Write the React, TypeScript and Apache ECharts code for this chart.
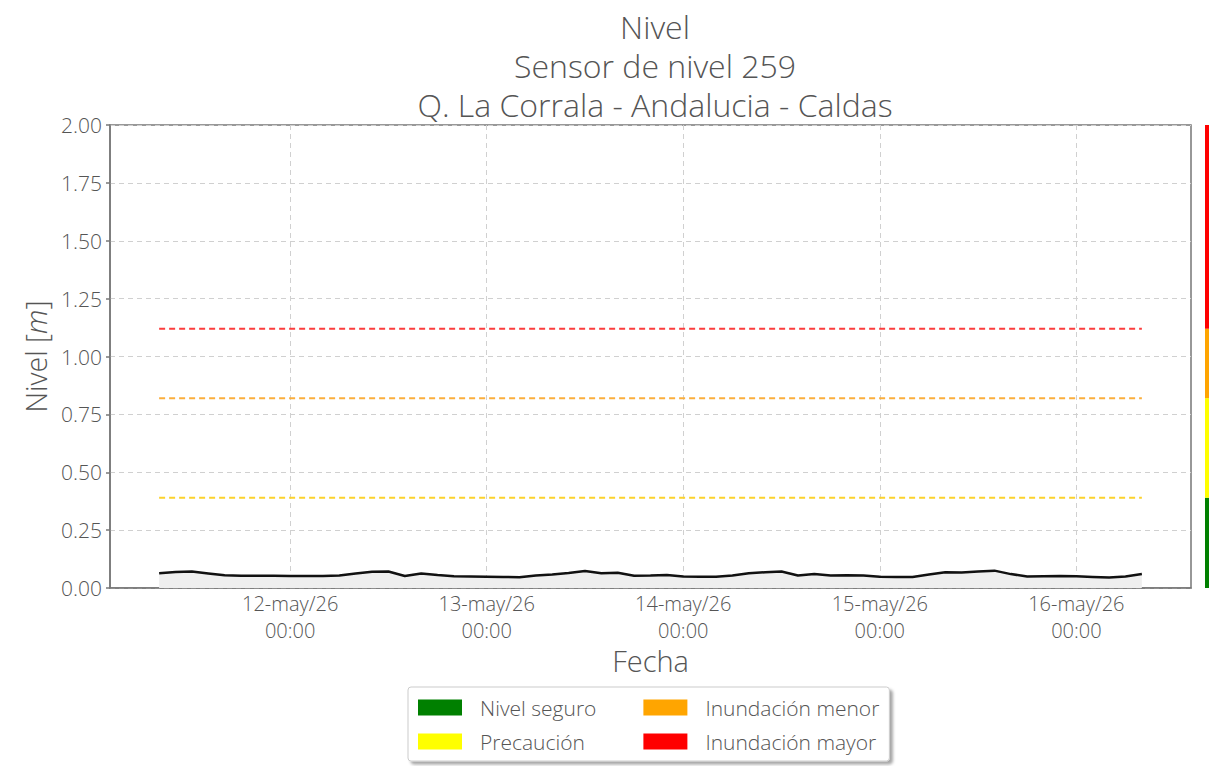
import { useEffect, useRef } from 'react';
import * as echarts from 'echarts';

const titleLines = ['Nivel', 'Sensor de nivel 259', 'Q. La Corrala - Andalucia - Caldas'];
const monthNames = ['ene', 'feb', 'mar', 'abr', 'may', 'jun', 'jul', 'ago', 'sep', 'oct', 'nov', 'dic'];

// level readings every 2 hours from 11-may-2026 08:00 (UTC)
const levels = [
  0.064, 0.069, 0.071, 0.063, 0.055, 0.053, 0.053, 0.053, 0.052, 0.052,
  0.052, 0.054, 0.063, 0.070, 0.071, 0.052, 0.063, 0.056, 0.051, 0.050,
  0.049, 0.048, 0.046, 0.054, 0.058, 0.065, 0.073, 0.064, 0.066, 0.053,
  0.054, 0.056, 0.050, 0.049, 0.049, 0.054, 0.064, 0.068, 0.071, 0.054,
  0.060, 0.054, 0.055, 0.054, 0.049, 0.048, 0.048, 0.058, 0.068, 0.067,
  0.071, 0.075, 0.060, 0.050, 0.051, 0.052, 0.051, 0.048, 0.045, 0.050,
  0.060,
];
const startTime = Date.UTC(2026, 4, 11, 8);
const stepMs = 2 * 3600 * 1000;
const axisMin = Date.UTC(2026, 4, 11, 2);
const axisMax = Date.UTC(2026, 4, 16, 14);
const tickDays = [12, 13, 14, 15, 16];

const thresholds = [0.39, 0.82, 1.12];
const thresholdColors = ['#fcd22c', '#fbae3c', '#fc3d3d'];
const categoryNames = ['Nivel seguro', 'Precaución', 'Inundación menor', 'Inundación mayor'];
const categoryColors = ['#008000', '#ffff00', '#ffa500', '#ff0000'];
const yMax = 2;

const FONT = '"Open Sans", Lato, sans-serif';
const TEXT = '#555555';
const W = 300;

export default function App() {
  const ref = useRef<HTMLDivElement>(null);
  useEffect(() => {
    if (!ref.current) return;
    const chart = echarts.init(ref.current, null, { renderer: 'svg' });
    const times = levels.map((_, i) => startTime + i * stepMs);
    const endTime = times[times.length - 1];
    const tickValues = tickDays.map((d) => Date.UTC(2026, 4, d));
    const bounds = [0, ...thresholds, yMax];
    const bandValues = categoryNames.map((_, i) => bounds[i + 1] - bounds[i]);
    const dateLabel = (v: number) => {
      const d = new Date(v);
      const yy = String(d.getUTCFullYear()).slice(2);
      return `${d.getUTCDate()}-${monthNames[d.getUTCMonth()]}/${yy}`;
    };
    const timeLabel = (v: number) => {
      const d = new Date(v);
      const hh = String(d.getUTCHours()).padStart(2, '0');
      const mm = String(d.getUTCMinutes()).padStart(2, '0');
      return `${hh}:${mm}`;
    };
    const labelFont = { fontFamily: FONT, fontSize: 20, fontWeight: W, color: TEXT };
    const plotRect = { left: 110, right: 18, top: 125, bottom: 178, containLabel: false };

    const option: any = {
      animation: false,
      textStyle: { fontFamily: FONT },
      title: {
        text: titleLines.join('\n'),
        left: 650,
        top: 2,
        textAlign: 'center',
        textStyle: { fontFamily: FONT, fontSize: 32, fontWeight: W, color: TEXT, lineHeight: 39 },
      },
      grid: [
        { ...plotRect, show: true, borderColor: '#777', borderWidth: 1.5 },
        { left: 1205, width: 4, top: 125, bottom: 178, containLabel: false },
        { ...plotRect, show: false },
      ],
      legend: {
        orient: 'vertical',
        left: 408,
        top: 687,
        height: 60,
        padding: [10, 10, 9, 10],
        itemGap: 13,
        itemWidth: 44,
        itemHeight: 16,
        icon: 'rect',
        data: categoryNames,
        backgroundColor: '#fff',
        borderColor: '#cccccc',
        borderWidth: 1,
        borderRadius: 3,
        shadowBlur: 3,
        shadowOffsetX: 3,
        shadowOffsetY: 3,
        shadowColor: 'rgba(0,0,0,0.35)',
        selectedMode: false,
        formatter: (name: string) => (categoryNames.indexOf(name) < 2 ? `{a|${name}}{s|}` : `{a|${name}}`),
        textStyle: {
          fontFamily: FONT,
          fontSize: 21,
          fontWeight: W,
          color: TEXT,
          lineHeight: 20,
          padding: [0, 0, 0, 13],
          rich: {
            a: { fontFamily: FONT, fontSize: 21, fontWeight: W, color: TEXT, lineHeight: 20 },
            s: { width: 34, lineHeight: 20 },
          },
        },
      },
      xAxis: [
        {
          type: 'value',
          gridIndex: 0,
          min: axisMin,
          max: axisMax,
          name: 'Fecha',
          nameLocation: 'middle',
          nameGap: 58,
          nameTextStyle: { fontFamily: FONT, fontSize: 29, fontWeight: W, color: TEXT },
          axisLine: { lineStyle: { color: '#777', width: 1.5 } },
          axisTick: { inside: true, length: 5, customValues: tickValues, lineStyle: { color: '#777', width: 1.5 } },
          axisLabel: { customValues: tickValues, margin: 5, ...labelFont, formatter: dateLabel },
          splitLine: { show: true, lineStyle: { color: '#d0d0d0', type: [5, 4], width: 1 } },
        },
        { type: 'category', gridIndex: 1, data: ['c'], show: false },
        {
          type: 'value',
          gridIndex: 2,
          min: axisMin,
          max: axisMax,
          axisLine: { show: false },
          axisTick: { show: false, customValues: tickValues },
          splitLine: { show: false },
          axisLabel: { customValues: tickValues, margin: 32, ...labelFont, formatter: timeLabel },
        },
      ],
      yAxis: [
        {
          type: 'value',
          gridIndex: 0,
          min: 0,
          max: yMax,
          interval: 0.25,
          name: '{n|Nivel [}{i|m}{n|]}',
          nameLocation: 'middle',
          nameGap: 57,
          nameRotate: 90,
          nameTextStyle: {
            rich: {
              n: { fontFamily: FONT, fontSize: 28.5, fontWeight: W, color: TEXT },
              i: { fontFamily: FONT, fontSize: 28.5, fontWeight: W, fontStyle: 'italic', color: TEXT },
            },
          },
          axisLine: { show: true, lineStyle: { color: '#777', width: 1.5 } },
          axisTick: { show: true, length: 4, lineStyle: { color: '#777', width: 1.5 } },
          axisLabel: {
            margin: 8,
            fontFamily: FONT,
            fontSize: 21,
            fontWeight: W,
            color: TEXT,
            formatter: (v: number) => v.toFixed(2),
          },
          splitLine: { show: true, lineStyle: { color: '#d0d0d0', type: [5, 4], width: 1 } },
        },
        { type: 'value', gridIndex: 1, min: 0, max: yMax, show: false },
        { type: 'value', gridIndex: 2, min: 0, max: yMax, show: false },
      ],
      series: [
        {
          name: 'Nivel',
          type: 'line',
          xAxisIndex: 0,
          yAxisIndex: 0,
          data: levels.map((v, i) => [times[i], v]),
          symbol: 'none',
          smooth: false,
          lineStyle: { color: '#111', width: 2.5 },
          areaStyle: { color: '#efefef', opacity: 1, origin: 'start' },
          z: 3,
        },
        ...thresholds.map((t, i) => ({
          name: 'umbral' + i,
          type: 'line',
          xAxisIndex: 0,
          yAxisIndex: 0,
          data: [[startTime, t], [endTime, t]],
          symbol: 'none',
          silent: true,
          lineStyle: { color: thresholdColors[i], width: 2, type: [6, 4] },
          z: 4,
        })),
        ...categoryNames.map((name, i) => ({
          name,
          type: 'bar',
          xAxisIndex: 1,
          yAxisIndex: 1,
          stack: 'bar',
          barWidth: '100%',
          data: [bandValues[i]],
          itemStyle: { color: categoryColors[i] },
          silent: true,
        })),
      ],
    };
    chart.setOption(option);
    return () => chart.dispose();
  }, []);
  return (
    <div
      ref={ref}
      style={{ position: 'fixed', left: 0, top: 0, width: 1209, height: 766, background: '#fff' }}
    />
  );
}
